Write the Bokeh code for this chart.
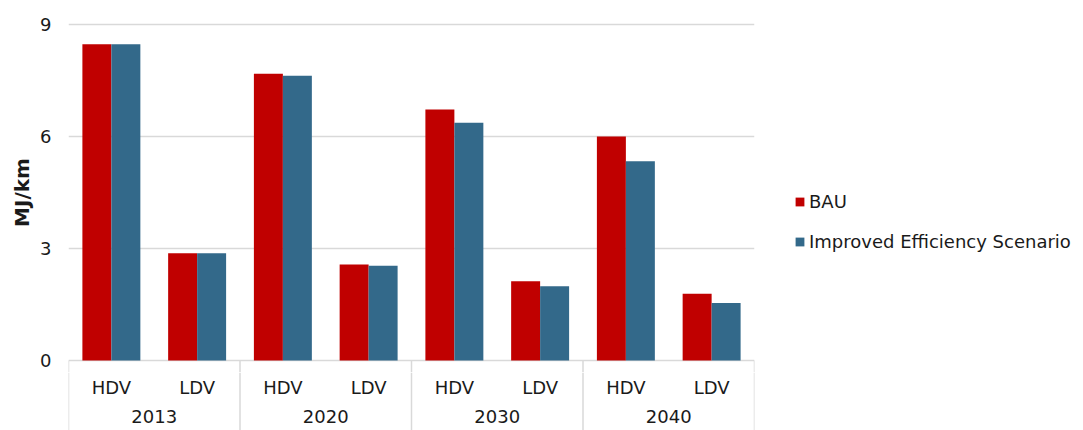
from bokeh.plotting import figure
from bokeh.models import (ColumnDataSource, FactorRange, Range1d, FixedTicker,
                          Legend, LegendItem)
from bokeh.layouts import row, column
from bokeh.transform import dodge
from bokeh.core.properties import value
from bokeh.embed import file_html
from bokeh.resources import INLINE

# ---- data ----
years = ["2013", "2020", "2030", "2040"]
vehicles = ["HDV", "LDV"]
bau = [8.47, 2.87, 7.68, 2.57, 6.72, 2.12, 6.00, 1.79]
ies = [8.47, 2.87, 7.63, 2.54, 6.37, 1.99, 5.34, 1.54]
series_names = ["BAU", "Improved Efficiency Scenario"]
y_ticks = [0, 3, 6, 9]
y_label = "MJ/km"

FONT = "DejaVu Sans"
TXT = "#1a1a1a"
RED = "#C00000"
BLUE = "#33698A"
GRID = "#D9D9D9"

LEFT = 68          # left border (axis area)
FRAME_W = 686      # plot-area width
TOP = 12           # space above plot area
PAD = 12           # plot area margin (px) above 9 and below 0
PLOT_H = 336 + 2 * PAD
CAT_H = 58         # category-axis strip height
W_MAIN = LEFT + FRAME_W + 1
LEG_W = 1078 - W_MAIN
H = TOP + PLOT_H + CAT_H

factors = [(y, v) for y in years for v in vehicles]
src = ColumnDataSource(dict(x=factors, bau=bau, ies=ies, veh=[f[1] for f in factors]))

unit = 336 / 9.0
xr = FactorRange(*factors, range_padding=0, group_padding=0,
                 factor_padding=0, subgroup_padding=0)
p = figure(width=W_MAIN, height=TOP + PLOT_H,
           output_backend="svg", toolbar_location=None,
           x_range=xr, y_range=Range1d(-PAD / unit, 9 + PAD / unit),
           x_axis_location=None,
           min_border_left=LEFT, min_border_right=1,
           min_border_top=TOP, min_border_bottom=0)
p.outline_line_color = None
p.background_fill_color = "white"
p.border_fill_color = "white"

yax = p.yaxis[0]
yax.ticker = FixedTicker(ticks=y_ticks)
yax.axis_line_color = None
yax.major_tick_line_color = None
yax.minor_tick_line_color = None
yax.major_tick_out = 0
yax.major_tick_in = 0
yax.major_label_standoff = 17
yax.major_label_text_font = FONT
yax.major_label_text_font_size = "18px"
yax.major_label_text_color = TXT
yax.axis_label = y_label
yax.axis_label_text_font = FONT
yax.axis_label_text_font_style = "bold"
yax.axis_label_text_font_size = "20px"
yax.axis_label_text_color = TXT
yax.axis_label_standoff = 3

p.xgrid.visible = False
p.ygrid.ticker = FixedTicker(ticks=y_ticks)
p.ygrid.grid_line_color = GRID
p.ygrid.grid_line_width = 1.5

bw = 0.338
r1 = p.vbar(x=dodge("x", -bw / 2, range=xr), top="bau", width=bw, bottom=0,
            source=src, fill_color=RED, line_color=None)
r2 = p.vbar(x=dodge("x", bw / 2, range=xr), top="ies", width=bw, bottom=0,
            source=src, fill_color=BLUE, line_color=None)

grp_first = ColumnDataSource(dict(x=[(y, vehicles[0]) for y in years], yr=years))
grp_last = ColumnDataSource(dict(x=[(years[-1], vehicles[-1])]))

# group separators: start at the zero line in the main plot
p.segment(x0=dodge("x", -0.5, range=xr), x1=dodge("x", -0.5, range=xr),
          y0=0, y1=p.y_range.start, source=grp_first, line_color=GRID, line_width=1.5)
p.segment(x0=dodge("x", 0.5, range=xr), x1=dodge("x", 0.5, range=xr),
          y0=0, y1=p.y_range.start, source=grp_last, line_color=GRID, line_width=1.5)

# ---- category axis strip (shares the x range) ----
c = figure(width=W_MAIN, height=CAT_H,
           output_backend="svg", toolbar_location=None,
           x_range=xr, y_range=Range1d(-CAT_H, 0),
           x_axis_location=None, y_axis_location=None,
           min_border_left=LEFT, min_border_right=1,
           min_border_top=0, min_border_bottom=0)
c.outline_line_color = None
c.xgrid.visible = False
c.ygrid.visible = False

c.segment(x0=dodge("x", -0.5, range=xr), x1=dodge("x", -0.5, range=xr),
          y0=0, y1=-CAT_H, source=grp_first, line_color=GRID, line_width=1.5)
c.segment(x0=dodge("x", 0.5, range=xr), x1=dodge("x", 0.5, range=xr),
          y0=0, y1=-CAT_H, source=grp_last, line_color=GRID, line_width=1.5)
c.text(x="x", y=-15, text="veh", source=src, text_align="center",
       text_baseline="middle", text_font=value(FONT), text_font_size="18px",
       text_color=TXT)
c.text(x=dodge("x", 0.5, range=xr), y=-44, text="yr", source=grp_first,
       text_align="center", text_baseline="middle", text_font=value(FONT),
       text_font_size="18px", text_color=TXT)

# ---- legend panel ----
q = figure(width=LEG_W, height=H, output_backend="svg", toolbar_location=None,
           x_range=Range1d(0, 1), y_range=Range1d(0, 1),
           x_axis_location=None, y_axis_location=None,
           min_border_left=0, min_border_right=0,
           min_border_top=0, min_border_bottom=0)
q.outline_line_color = None
q.xgrid.visible = False
q.ygrid.visible = False
swatch = ColumnDataSource(dict(x=[-5], top=[-5]))  # kept outside the visible range
l1 = q.vbar(x="x", top="top", width=0.1, source=swatch, fill_color=RED, line_color=None)
l2 = q.vbar(x="x", top="top", width=0.1, source=swatch, fill_color=BLUE, line_color=None)

legend = Legend(items=[LegendItem(label=series_names[0], renderers=[l1]),
                       LegendItem(label=series_names[1], renderers=[l2])],
                location=(39, H - 252), orientation="vertical",
                glyph_width=11, glyph_height=11, label_standoff=4,
                label_height=20, spacing=19, padding=0, margin=0,
                border_line_color=None, background_fill_alpha=0,
                label_text_font=FONT, label_text_font_size="18px",
                label_text_color=TXT)
q.add_layout(legend, "center")

layout = row(column(p, c, spacing=0), q, spacing=0)
open("out.html", "w").write(file_html(layout, INLINE))
